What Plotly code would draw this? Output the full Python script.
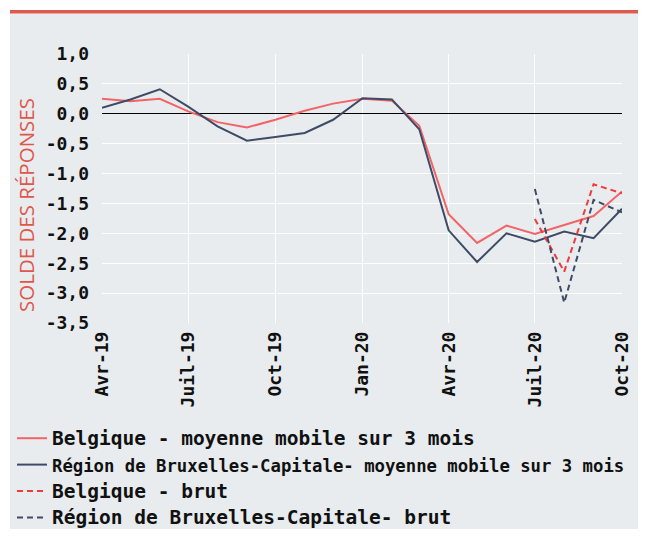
import plotly.graph_objects as go

# ---- data ----
months = ["2019-04-01", "2019-05-01", "2019-06-01", "2019-07-01", "2019-08-01", "2019-09-01",
          "2019-10-01", "2019-11-01", "2019-12-01", "2020-01-01", "2020-02-01", "2020-03-01",
          "2020-04-01", "2020-05-01", "2020-06-01", "2020-07-01", "2020-08-01", "2020-09-01",
          "2020-10-01"]
belgique_mm = [0.25, 0.21, 0.25, 0.04, -0.14, -0.23, -0.10, 0.05, 0.17, 0.25, 0.22, -0.20,
               -1.68, -2.16, -1.87, -2.01, -1.86, -1.71, -1.30]
bruxelles_mm = [0.10, 0.24, 0.41, 0.12, -0.21, -0.45, -0.39, -0.32, -0.10, 0.26, 0.24, -0.26,
                -1.95, -2.48, -2.00, -2.14, -1.97, -2.08, -1.59]
raw_months = ["2020-07-01", "2020-08-01", "2020-09-01", "2020-10-01"]
belgique_brut = [-1.76, -2.64, -1.18, -1.33]
bruxelles_brut = [-1.26, -3.16, -1.44, -1.65]

x_tickvals = ["2019-04-01", "2019-07-01", "2019-10-01", "2020-01-01", "2020-04-01", "2020-07-01", "2020-10-01"]
x_ticktext = ["Avr-19", "Juil-19", "Oct-19", "Jan-20", "Avr-20", "Juil-20", "Oct-20"]
y_tickvals = [1.0, 0.5, 0.0, -0.5, -1.0, -1.5, -2.0, -2.5, -3.0, -3.5]
y_ticktext = ["1,0", "0,5", "0,0", "-0,5", "-1,0", "-1,5", "-2,0", "-2,5", "-3,0", "-3,5"]

names = ["<span style='font-size:19.5px'>Belgique - moyenne mobile sur 3 mois</span>",
         "<span style='font-size:17.3px'>Région de Bruxelles-Capitale- moyenne mobile sur 3 mois</span>",
         "<span style='font-size:19.5px'>Belgique - brut</span>",
         "<span style='font-size:19.5px'>Région de Bruxelles-Capitale- brut</span>"]

RED = "#F26466"
RED_D = "#F23A3C"
NAVY = "#3F4B66"
BG = "#E8ECEF"
MONO = "DejaVu Sans Mono"

fig = go.Figure()
fig.add_trace(go.Scatter(x=months, y=belgique_mm, mode="lines", name=names[0],
                         line=dict(color=RED, width=2)))
fig.add_trace(go.Scatter(x=months, y=bruxelles_mm, mode="lines", name=names[1],
                         line=dict(color=NAVY, width=2)))
fig.add_trace(go.Scatter(x=raw_months, y=belgique_brut, mode="lines", name=names[2],
                         line=dict(color=RED_D, width=2, dash="6px,4px")))
fig.add_trace(go.Scatter(x=raw_months, y=bruxelles_brut, mode="lines", name=names[3],
                         line=dict(color=NAVY, width=2, dash="6px,4px")))

# figure is placed 8px in from the page corner (body margin)
W, H = 630, 521
L, R, T, B = 94, 16, 46, 206
pw, ph = W - L - R, H - T - B


def px(xp):
    return (xp - L) / pw


def py(yp):
    return (H - B - yp) / ph


shapes = [
    dict(type="rect", xref="paper", yref="paper", x0=px(2), x1=px(W), y0=py(H), y1=py(5.5),
         fillcolor=BG, line=dict(width=0), layer="below"),
    dict(type="rect", xref="paper", yref="paper", x0=px(2), x1=px(W), y0=py(5.5), y1=py(2),
         fillcolor="#DE5A4C", line=dict(width=0), layer="below"),
]

fig.update_layout(
    width=W, height=H,
    margin=dict(l=L, r=R, t=T, b=B, pad=0, autoexpand=False),
    paper_bgcolor="white",
    plot_bgcolor=BG,
    shapes=shapes,
    showlegend=True,
    legend=dict(x=px(4), y=py(412), xanchor="left", yanchor="top", borderwidth=0,
                bgcolor="rgba(0,0,0,0)", font=dict(family=MONO, size=18, color="#111", weight="bold"),
                itemwidth=30),
    annotations=[dict(text="SOLDE DES RÉPONSES", xref="paper", yref="paper", x=px(18), y=py(197),
                      textangle=-90, showarrow=False, xanchor="center", yanchor="middle",
                      font=dict(family="Open Sans", size=20.5, color="#E0574A"))],
)
fig.update_xaxes(type="date", range=[months[0], months[-1]], tickvals=x_tickvals, ticktext=x_ticktext,
                 tickangle=-90, showgrid=True, gridcolor="white", gridwidth=1, zeroline=False,
                 showline=False, ticks="", ticklabelstandoff=4,
                 tickfont=dict(family=MONO, size=18, color="#111", weight="bold"))
fig.update_yaxes(range=[-3.5, 1.0], tickvals=y_tickvals, ticktext=y_ticktext,
                 showgrid=True, gridcolor="white", gridwidth=1, zeroline=True, zerolinecolor="black",
                 zerolinewidth=1, showline=False, ticks="", ticklabelstandoff=12,
                 tickfont=dict(family=MONO, size=18, color="#111", weight="bold"))

fig.write_html("out.html")
